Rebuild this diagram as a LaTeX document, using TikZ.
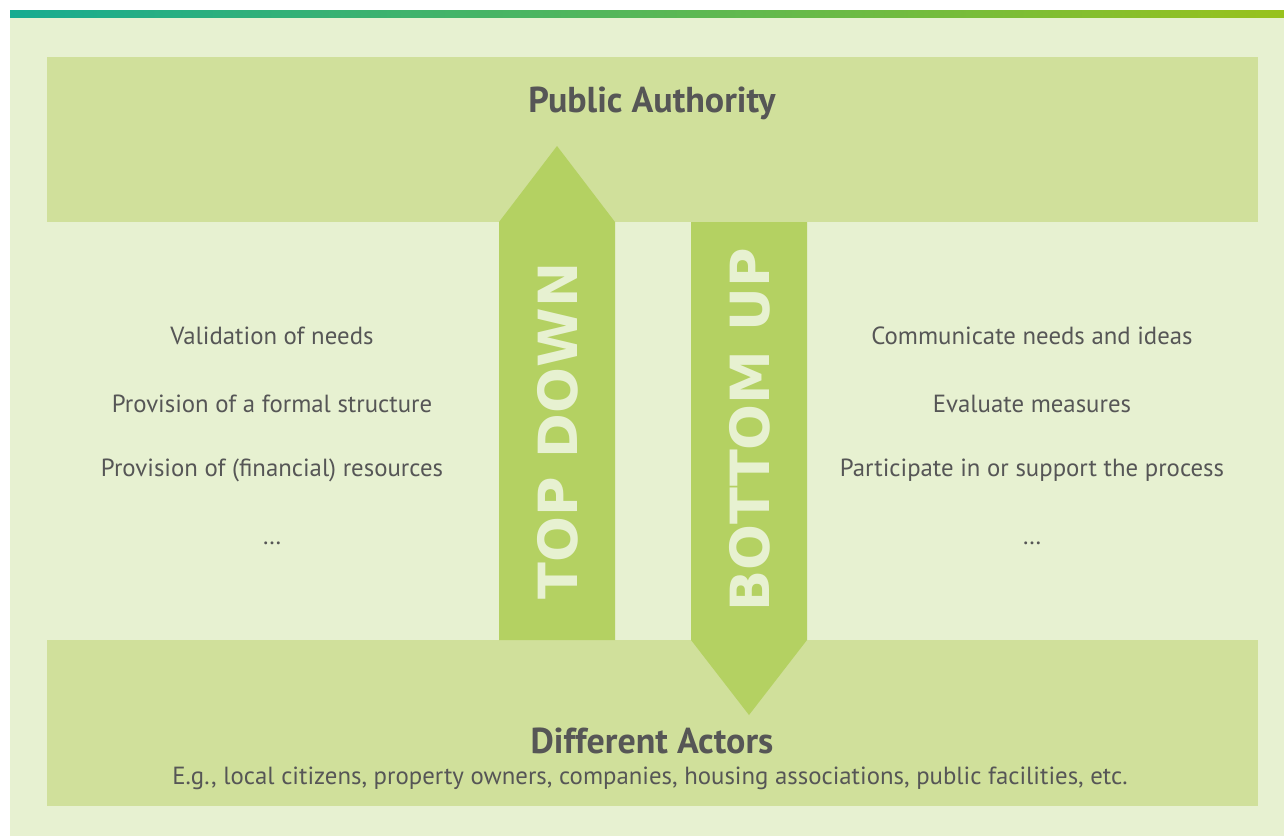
\documentclass[tikz,border=0pt]{standalone}
\usepackage{fontspec}
\setmainfont{PT Sans}
\newfontfamily\arrowfont{DejaVu Sans}
\usetikzlibrary{positioning}

\definecolor{panel}{HTML}{E7F1D1}
\definecolor{boxgreen}{HTML}{D0E09B}
\definecolor{arrowgreen}{HTML}{B4D162}
\definecolor{textgray}{HTML}{565656}
\definecolor{barteal}{HTML}{17AC91}
\definecolor{barlime}{HTML}{98C21D}

\begin{document}
\begin{tikzpicture}[x=0.5pt,y=-0.5pt,
  title/.style={font=\bfseries\fontsize{18}{21}\selectfont, text=textgray},
  item/.style={font=\fontsize{12.4}{15}\selectfont, text=textgray},
  sub/.style={font=\fontsize{12.4}{15}\selectfont, text=textgray},
  arrowtext/.style={font=\arrowfont\bfseries\fontsize{27}{28}\selectfont, text=panel, rotate=90}]

\useasboundingbox (0,0) rectangle (1284,836);

% Background panel and top bar
\fill [panel] (10,17) rectangle (1284,836);
\fill [left color=barteal, right color=barlime] (10,10) rectangle (1284,17);

% Upper and lower boxes
\fill [boxgreen] (47,57) rectangle (1258,222);
\fill [boxgreen] (47,640) rectangle (1258,806);

% Block arrows
\fill [arrowgreen] (499,640) -- (499,222) -- (557,146) -- (615,222) -- (615,640) -- cycle;
\fill [arrowgreen] (691,222) -- (691,640) -- (749,715) -- (807,640) -- (807,222) -- cycle;

\node [arrowtext] (topdown) at (558,431) {TOP DOWN};
\node [arrowtext] (bottomup) at (750,430) {BOTTOM UP};

% Titles
\node [title] (authority) at (652,103) {Public Authority};
\node [title] (actors) at (652,741) {Different Actors};
\node [sub] (examples) at (650,778) {E.g., local citizens, property owners, companies, housing associations, public facilities, etc.};

% Left list
\node [item] (validation) at (272,336) {Validation of needs};
\node [item] (structure) at (272,404) {Provision of a formal structure};
\node [item] (resources) at (272,470) {Provision of (financial) resources};
\node [item] (leftdots) at (272,543) {\dots};

% Right list
\node [item] (communicate) at (1032,336) {Communicate needs and ideas};
\node [item] (evaluate) at (1032,404) {Evaluate measures};
\node [item] (participate) at (1032,470) {Participate in or support the process};
\node [item] (rightdots) at (1032,543) {\dots};

\end{tikzpicture}
\end{document}
